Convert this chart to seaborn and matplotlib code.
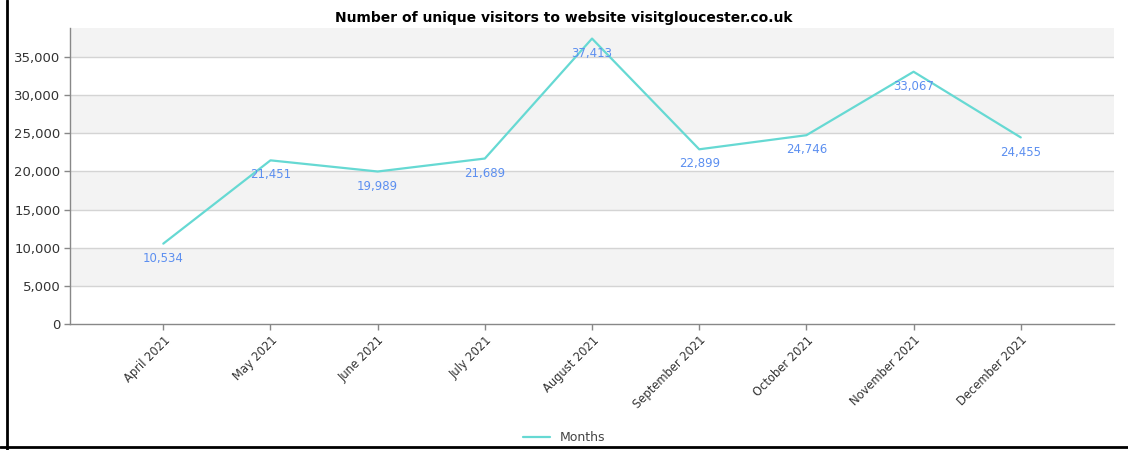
import pandas as pd
import matplotlib.pyplot as plt
import matplotlib.lines as mlines
import seaborn as sns

# Data
months = ['April 2021', 'May 2021', 'June 2021', 'July 2021', 'August 2021',
          'September 2021', 'October 2021', 'November 2021', 'December 2021']
visitors = [10534, 21451, 19989, 21689, 37413, 22899, 24746, 33067, 24455]
y_ticks = [0, 5000, 10000, 15000, 20000, 25000, 30000, 35000]

data = pd.DataFrame({'pos': range(len(months)), 'Months': visitors})

sns.set_style('white')
plt.rcParams['font.family'] = ['DejaVu Sans']

fig = plt.figure(figsize=(11.28, 4.5), dpi=100)
ax = fig.add_axes([0.0621, 0.28, 0.9255, 0.6578])

# alternating bands
ymax = 38800
for lo in [5000, 15000, 25000, 35000]:
    ax.axhspan(lo, min(lo + 5000, ymax), color='#f3f3f3', zorder=0, lw=0)
for t in y_ticks[1:]:
    ax.axhline(t, color='#d4d4d4', lw=1, zorder=1)

sns.lineplot(data=data, x='pos', y='Months', color='#66d9d3', lw=1.6, ax=ax, zorder=3)

for i, v in enumerate(visitors):
    ax.annotate(f'{v:,}', (i, v), xytext=(0, -10.5), textcoords='offset points',
                ha='center', va='center', fontsize=8.5, color='#5c8ff0', zorder=4)

ax.set_xlim(-0.87, len(months) - 1 + 0.87)
ax.set_ylim(0, ymax)
ax.set_yticks(y_ticks)
ax.set_yticklabels([f'{t:,}' for t in y_ticks], fontsize=9.5, color='#333333')
ax.set_xticks(range(len(months)))
ax.set_xticklabels(months, rotation=45, ha='right', rotation_mode='anchor',
                   fontsize=8.3, color='#333333')
ax.set_xlabel('')
ax.set_ylabel('')
ax.tick_params(axis='both', left=True, bottom=True, length=4, width=1,
               color='#888888', direction='out', pad=3)
for s in ['top', 'right']:
    ax.spines[s].set_visible(False)
for s in ['left', 'bottom']:
    ax.spines[s].set_color('#888888')
    ax.spines[s].set_linewidth(1)

fig.suptitle('Number of unique visitors to website visitgloucester.co.uk',
             fontsize=10, fontweight='bold', color='black', y=0.975)

handle = mlines.Line2D([], [], color='#66d9d3', lw=1.6)
fig.legend([handle], ['Months'], loc='center', bbox_to_anchor=(0.5, 0.028),
           frameon=False, fontsize=9, handlelength=2.2, labelcolor='#444444')

# outer frame lines (left and bottom)
fig.add_artist(mlines.Line2D([0.0062, 0.0062], [0.0, 1.0], color='black', lw=2,
                             transform=fig.transFigure))
fig.add_artist(mlines.Line2D([0.0, 1.0], [0.006, 0.006], color='black', lw=2,
                             transform=fig.transFigure))

fig.savefig('out.png', dpi=100)
